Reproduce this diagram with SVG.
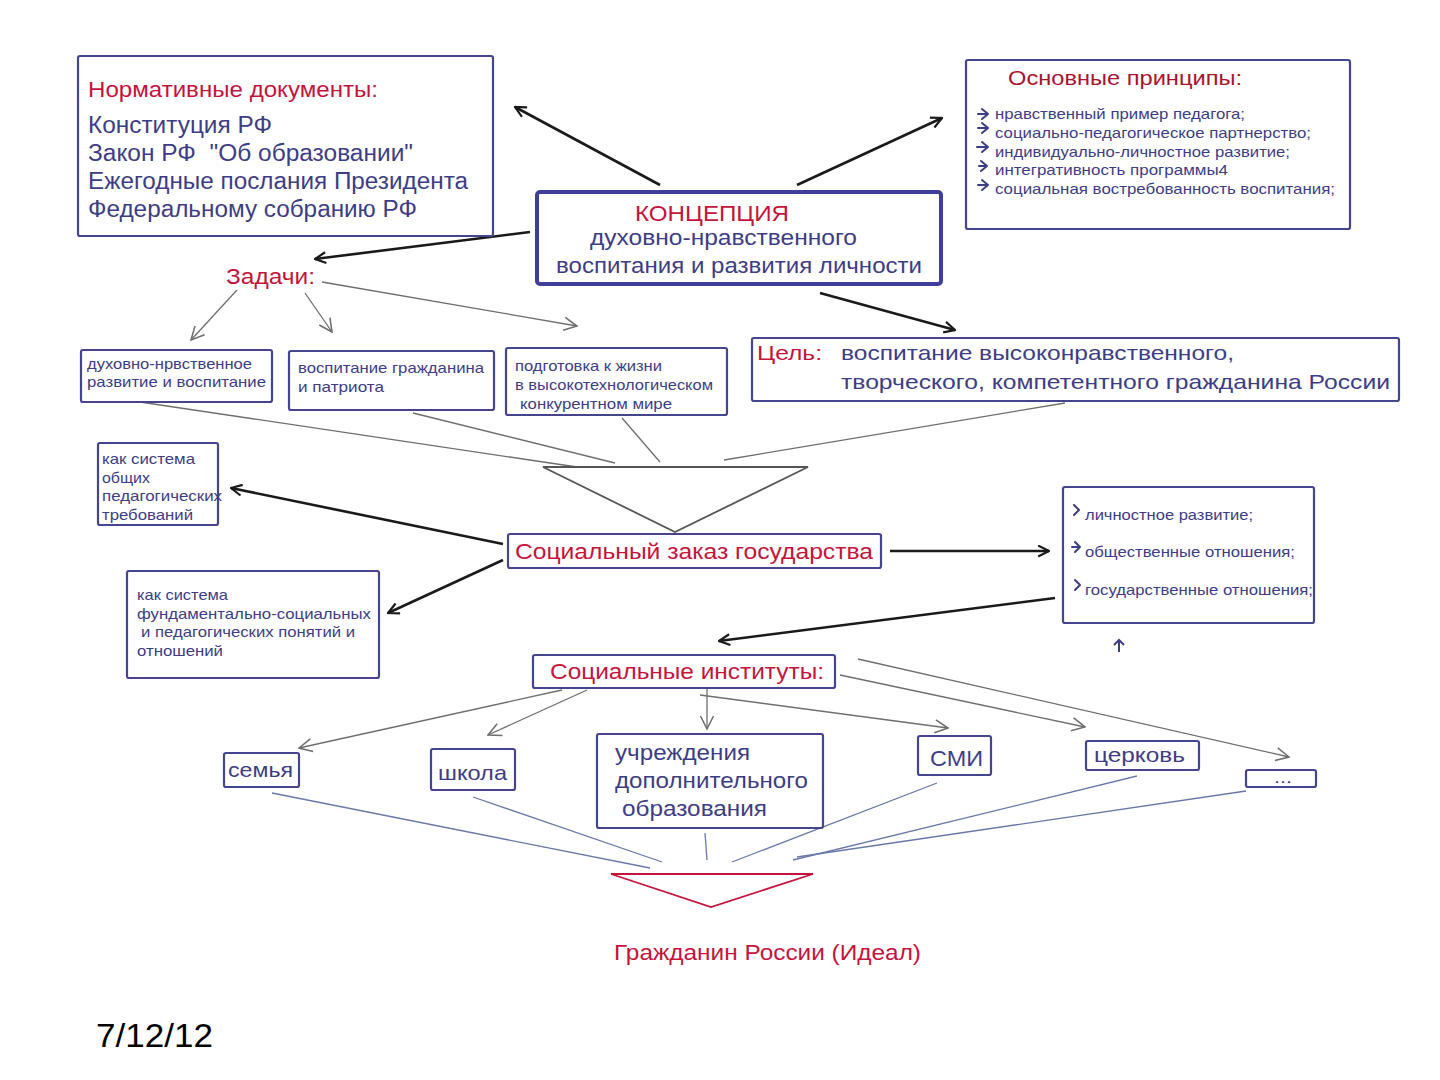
<svg xmlns="http://www.w3.org/2000/svg" width="1440" height="1080" viewBox="0 0 1440 1080">
<defs>
<style>
.box{fill:#fff;stroke:#45458f;stroke-width:2.2}
.t{font-family:"Liberation Sans",Arial,sans-serif;fill:#3d3d85}
.r{font-family:"Liberation Sans",Arial,sans-serif;fill:#c4143c}
.blk{stroke:#1a1a1a;stroke-width:2.6;fill:none}
.gry{stroke:#6e6e6e;stroke-width:1.3;fill:none}
.blu{stroke:#6a78a8;stroke-width:1.3;fill:none}
.bul{stroke:#3d3d85;stroke-width:2;fill:none;stroke-linecap:round;stroke-linejoin:round}
</style>
<marker id="ab" viewBox="0 0 12 12" refX="11" refY="6" markerWidth="5" markerHeight="5" orient="auto" markerUnits="strokeWidth">
<path d="M1,1 L11,6 L1,11" fill="none" stroke="#1a1a1a" stroke-width="2"/>
</marker>
<marker id="ag" viewBox="0 0 12 12" refX="11" refY="6" markerWidth="12" markerHeight="12" orient="auto" markerUnits="strokeWidth">
<path d="M1,1 L11,6 L1,11" fill="none" stroke="#6e6e6e" stroke-width="1.2"/>
</marker>
</defs>
<rect width="1440" height="1080" fill="#fff"/>

<g id="connectors">
<line class="blk" x1="660" y1="185" x2="515" y2="107" marker-end="url(#ab)"/>
<line class="blk" x1="797" y1="185" x2="942" y2="118" marker-end="url(#ab)"/>
<line class="blk" x1="530" y1="232" x2="315" y2="259" marker-end="url(#ab)"/>
<line class="blk" x1="820" y1="293" x2="955" y2="330" marker-end="url(#ab)"/>
<line class="gry" x1="237" y1="290" x2="191" y2="340" marker-end="url(#ag)"/>
<line class="gry" x1="305" y1="293" x2="332" y2="332" marker-end="url(#ag)"/>
<line class="gry" x1="322" y1="282" x2="577" y2="326" marker-end="url(#ag)"/>
<line class="gry" x1="140" y1="402" x2="577" y2="467"/>
<line class="gry" x1="413" y1="413" x2="615" y2="463"/>
<line class="gry" x1="622" y1="418" x2="660" y2="462"/>
<line class="gry" x1="1065" y1="403" x2="724" y2="460"/>
<polygon points="543,467 808,467 675,532" fill="none" stroke="#555" stroke-width="1.8"/>
<line class="blk" x1="503" y1="544" x2="231" y2="488" marker-end="url(#ab)"/>
<line class="blk" x1="503" y1="560" x2="388" y2="613" marker-end="url(#ab)"/>
<line class="blk" x1="890" y1="551" x2="1049" y2="551" marker-end="url(#ab)"/>
<line class="blk" x1="1055" y1="598" x2="719" y2="641" marker-end="url(#ab)"/>
<path d="M1119,652 L1119,640 M1114,645 L1119,640 L1124,645" stroke="#3d3d85" stroke-width="2" fill="none"/>
<line class="gry" x1="562" y1="690" x2="299" y2="748" marker-end="url(#ag)"/>
<line class="gry" x1="587" y1="690" x2="488" y2="735" marker-end="url(#ag)"/>
<line class="gry" x1="707" y1="688" x2="707" y2="729" marker-end="url(#ag)"/>
<line class="gry" x1="700" y1="695" x2="948" y2="728" marker-end="url(#ag)"/>
<line class="gry" x1="840" y1="675" x2="1085" y2="727" marker-end="url(#ag)"/>
<line class="gry" x1="858" y1="659" x2="1289" y2="757" marker-end="url(#ag)"/>
<line class="blu" x1="272" y1="793" x2="650" y2="868"/>
<line class="blu" x1="473" y1="797" x2="662" y2="862"/>
<line class="blu" x1="705" y1="833" x2="707" y2="860"/>
<line class="blu" x1="937" y1="783" x2="732" y2="862"/>
<line class="blu" x1="1137" y1="776" x2="793" y2="860"/>
<line class="blu" x1="1246" y1="791" x2="797" y2="857"/>
<polygon points="611,874 813,874 711,907" fill="none" stroke="#c4143c" stroke-width="1.8"/>
</g>

<g id="normative">
<rect class="box" x="78" y="56" width="415" height="180" rx="2"/>
<text class="r" x="88" y="97" font-size="22" textLength="290" lengthAdjust="spacingAndGlyphs">Нормативные документы:</text>
<text class="t" x="88" y="133" font-size="23" textLength="184" lengthAdjust="spacingAndGlyphs">Конституция РФ</text>
<text class="t" x="88" y="161" font-size="23" textLength="325" lengthAdjust="spacingAndGlyphs" xml:space="preserve">Закон РФ  "Об образовании"</text>
<text class="t" x="88" y="189" font-size="23" textLength="380" lengthAdjust="spacingAndGlyphs">Ежегодные послания Президента</text>
<text class="t" x="88" y="217" font-size="23" textLength="329" lengthAdjust="spacingAndGlyphs">Федеральному собранию РФ</text>
</g>

<g id="principles">
<rect class="box" x="966" y="60" width="384" height="169" rx="2"/>
<text x="1008" y="85" font-size="21" font-family="Liberation Sans, Arial, sans-serif" fill="#a8142e" textLength="234" lengthAdjust="spacingAndGlyphs">Основные принципы:</text>
<path class="bul" d="M982,109 L988,114 L982,119 M978,114 L988,114"/>
<path class="bul" d="M982,123 L988,128 L982,133 M978,128 L988,128"/>
<path class="bul" d="M982,142 L988,147 L982,152 M977,147 L988,147"/>
<path class="bul" d="M981,161 L987,166 L981,171 M979,166 L987,166"/>
<path class="bul" d="M982,180 L988,185 L982,190 M978,185 L988,185"/>
<text class="t" x="995" y="119" font-size="15" textLength="250" lengthAdjust="spacingAndGlyphs">нравственный пример педагога;</text>
<text class="t" x="995" y="138" font-size="15" textLength="316" lengthAdjust="spacingAndGlyphs">социально-педагогическое партнерство;</text>
<text class="t" x="995" y="157" font-size="15" textLength="295" lengthAdjust="spacingAndGlyphs">индивидуально-личностное развитие;</text>
<text class="t" x="995" y="175" font-size="15" textLength="233" lengthAdjust="spacingAndGlyphs">интегративность программы4</text>
<text class="t" x="995" y="194" font-size="15" textLength="340" lengthAdjust="spacingAndGlyphs">социальная востребованность воспитания;</text>
</g>

<g id="concept">
<rect x="537" y="192" width="404" height="92" rx="3" fill="#fff" stroke="#3f3f9a" stroke-width="4"/>
<text class="r" x="635" y="221" font-size="22" textLength="154" lengthAdjust="spacingAndGlyphs">КОНЦЕПЦИЯ</text>
<text class="t" x="590" y="245" font-size="22" textLength="267" lengthAdjust="spacingAndGlyphs">духовно-нравственного</text>
<text class="t" x="556" y="273" font-size="22" textLength="366" lengthAdjust="spacingAndGlyphs">воспитания и развития личности</text>
</g>

<g id="tasks">
<text class="r" x="226" y="284" font-size="22" textLength="89" lengthAdjust="spacingAndGlyphs">Задачи:</text>
</g>

<g id="task1">
<rect class="box" x="81" y="350" width="191" height="52" rx="2"/>
<text class="t" x="87" y="369" font-size="15" textLength="165" lengthAdjust="spacingAndGlyphs">духовно-нрвственное</text>
<text class="t" x="87" y="387" font-size="15" textLength="179" lengthAdjust="spacingAndGlyphs">развитие и воспитание</text>
</g>
<g id="task2">
<rect class="box" x="289" y="351" width="205" height="59" rx="2"/>
<text class="t" x="298" y="373" font-size="15" textLength="186" lengthAdjust="spacingAndGlyphs">воспитание гражданина</text>
<text class="t" x="298" y="392" font-size="15" textLength="86" lengthAdjust="spacingAndGlyphs">и патриота</text>
</g>
<g id="task3">
<rect class="box" x="506" y="348" width="221" height="67" rx="2"/>
<text class="t" x="515" y="371" font-size="15" textLength="147" lengthAdjust="spacingAndGlyphs">подготовка к жизни</text>
<text class="t" x="515" y="390" font-size="15" textLength="198" lengthAdjust="spacingAndGlyphs">в высокотехнологическом</text>
<text class="t" x="520" y="409" font-size="15" textLength="152" lengthAdjust="spacingAndGlyphs">конкурентном мире</text>
</g>

<g id="goal">
<rect class="box" x="752" y="338" width="647" height="63" rx="2"/>
<text class="r" x="757" y="360" font-size="21" textLength="65" lengthAdjust="spacingAndGlyphs">Цель:</text>
<text class="t" x="841" y="360" font-size="21" textLength="393" lengthAdjust="spacingAndGlyphs">воспитание высоконравственного,</text>
<text class="t" x="841" y="389" font-size="21" textLength="549" lengthAdjust="spacingAndGlyphs">творческого, компетентного гражданина России</text>
</g>

<g id="system1">
<rect class="box" x="98" y="443" width="120" height="82" rx="2"/>
<text class="t" x="102" y="464" font-size="15" textLength="93" lengthAdjust="spacingAndGlyphs">как система</text>
<text class="t" x="102" y="483" font-size="15" textLength="48" lengthAdjust="spacingAndGlyphs">общих</text>
<text class="t" x="102" y="501" font-size="15" textLength="120" lengthAdjust="spacingAndGlyphs">педагогических</text>
<text class="t" x="102" y="520" font-size="15" textLength="91" lengthAdjust="spacingAndGlyphs">требований</text>
</g>

<g id="system2">
<rect class="box" x="127" y="571" width="252" height="107" rx="2"/>
<text class="t" x="137" y="600" font-size="15" textLength="91" lengthAdjust="spacingAndGlyphs">как система</text>
<text class="t" x="137" y="619" font-size="15" textLength="234" lengthAdjust="spacingAndGlyphs">фундаментально-социальных</text>
<text class="t" x="141" y="637" font-size="15" textLength="214" lengthAdjust="spacingAndGlyphs">и педагогических понятий и</text>
<text class="t" x="137" y="656" font-size="15" textLength="86" lengthAdjust="spacingAndGlyphs">отношений</text>
</g>

<g id="order">
<rect class="box" x="508" y="534" width="373" height="34" rx="2"/>
<text class="r" x="515" y="559" font-size="22" textLength="358" lengthAdjust="spacingAndGlyphs">Социальный заказ государства</text>
</g>

<g id="relations">
<rect class="box" x="1063" y="487" width="251" height="136" rx="2"/>
<path class="bul" d="M1074,505 L1079,510 L1074,515"/>
<path class="bul" d="M1075,542 L1080,547 L1075,552 M1072,547 L1080,547"/>
<path class="bul" d="M1075,580 L1080,585 L1075,590"/>
<text class="t" x="1085" y="520" font-size="15" textLength="168" lengthAdjust="spacingAndGlyphs">личностное развитие;</text>
<text class="t" x="1085" y="557" font-size="15" textLength="210" lengthAdjust="spacingAndGlyphs">общественные отношения;</text>
<text class="t" x="1085" y="595" font-size="15" textLength="228" lengthAdjust="spacingAndGlyphs">государственные отношения;</text>
</g>

<g id="institutes">
<rect class="box" x="533" y="655" width="302" height="33" rx="2"/>
<text class="r" x="550" y="679" font-size="22" textLength="274" lengthAdjust="spacingAndGlyphs">Социальные институты:</text>
</g>

<g id="family">
<rect class="box" x="224" y="753" width="75" height="34" rx="2"/>
<text class="t" x="228" y="777" font-size="21" textLength="65" lengthAdjust="spacingAndGlyphs">семья</text>
</g>
<g id="school">
<rect class="box" x="431" y="749" width="84" height="41" rx="2"/>
<text class="t" x="438" y="780" font-size="21" textLength="69" lengthAdjust="spacingAndGlyphs">школа</text>
</g>
<g id="extra">
<rect class="box" x="597" y="734" width="226" height="94" rx="2"/>
<text class="t" x="615" y="760" font-size="22" textLength="135" lengthAdjust="spacingAndGlyphs">учреждения</text>
<text class="t" x="615" y="788" font-size="22" textLength="193" lengthAdjust="spacingAndGlyphs">дополнительного</text>
<text class="t" x="622" y="816" font-size="22" textLength="145" lengthAdjust="spacingAndGlyphs">образования</text>
</g>
<g id="media">
<rect class="box" x="918" y="736" width="73" height="39" rx="2"/>
<text class="t" x="930" y="766" font-size="22" textLength="53" lengthAdjust="spacingAndGlyphs">СМИ</text>
</g>
<g id="church">
<rect class="box" x="1086" y="741" width="113" height="29" rx="2"/>
<text class="t" x="1094" y="762" font-size="21" textLength="91" lengthAdjust="spacingAndGlyphs">церковь</text>
</g>
<g id="etc">
<rect class="box" x="1246" y="770" width="70" height="17" rx="2"/>
<text class="t" x="1274" y="783" font-size="16" textLength="18" lengthAdjust="spacingAndGlyphs">...</text>
</g>

<g id="ideal">
<text class="r" x="614" y="960" font-size="22" textLength="307" lengthAdjust="spacingAndGlyphs">Гражданин России (Идеал)</text>
</g>

<text x="96" y="1047" font-family="Liberation Sans, Arial, sans-serif" font-size="33" fill="#000" textLength="117" lengthAdjust="spacingAndGlyphs">7/12/12</text>
</svg>
